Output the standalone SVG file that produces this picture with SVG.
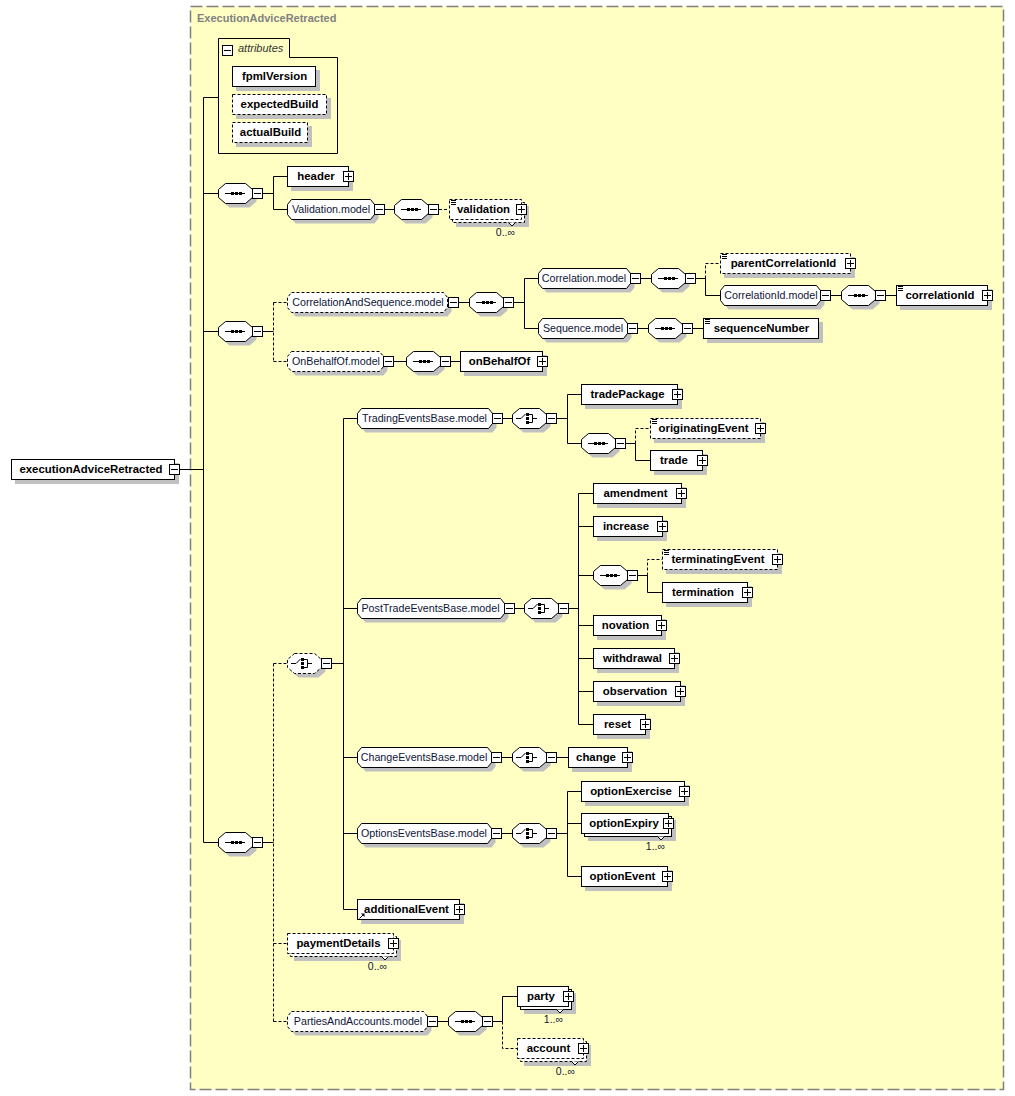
<svg xmlns="http://www.w3.org/2000/svg" xmlns:xlink="http://www.w3.org/1999/xlink" width="1015" height="1096" viewBox="0 0 1015 1096">
<style>
.sh{fill:#c0c0c0;stroke:none}
.b{fill:#fff;stroke:#000;stroke-width:1}
.d{stroke-dasharray:3,2}
.ln{fill:none;stroke:#000;stroke-width:1}
.k{fill:none;stroke:#000;stroke-width:1}
.e{font-family:"Liberation Sans",Arial,sans-serif;font-size:11.4px;font-weight:bold;text-anchor:middle;fill:#000}
.m{font-family:"Liberation Sans",Arial,sans-serif;font-size:10.7px;text-anchor:middle;fill:#0e1638}
.c{font-family:"Liberation Sans",Arial,sans-serif;font-size:10.5px;text-anchor:end;fill:#0e1638}
</style>
<defs>
<g id="plus"><rect x="0.5" y="0.5" width="10" height="10" fill="#fff" stroke="#000"/><path d="M2,5.5H9M5.5,2V9" stroke="#000"/></g>
<g id="minus"><rect x="0.5" y="0.5" width="10" height="10" fill="#fff" stroke="#000"/><path d="M2,5.5H9" stroke="#000"/></g>
<g id="seqC">
<path class="sh" d="M11.5,4.5H31.5L38.5,10.5V18.5L31.5,24.5H11.5L4.5,18.5V10.5Z"/>
<path class="b" d="M7.5,0.5H27.5L34.5,6.5V14.5L27.5,20.5H7.5L0.5,14.5V6.5Z"/>
<path d="M7,10.5H27" stroke="#000"/>
<rect x="13" y="9" width="3" height="3"/><rect x="17" y="9" width="3" height="3"/><rect x="21" y="9" width="3" height="3"/>
</g>
<g id="choIcon">
<path d="M4,10.5H9L13.5,6" stroke="#000" fill="none"/>
<rect x="14" y="5" width="3" height="3"/><rect x="14" y="9" width="3" height="3"/><rect x="14" y="13" width="3" height="3"/>
<path d="M17,6.5H20.5V14.5H17M20.5,10.5H25" stroke="#000" fill="none"/>
</g>
<g id="choC">
<path class="sh" d="M11.5,4.5H31.5L38.5,10.5V18.5L31.5,24.5H11.5L4.5,18.5V10.5Z"/>
<path class="b" d="M7.5,0.5H27.5L34.5,6.5V14.5L27.5,20.5H7.5L0.5,14.5V6.5Z"/>
<use xlink:href="#choIcon"/>
</g>
<g id="choCd">
<path class="sh" d="M11.5,4.5H31.5L38.5,10.5V18.5L31.5,24.5H11.5L4.5,18.5V10.5Z"/>
<path class="b d" d="M7.5,0.5H27.5L34.5,6.5V14.5L27.5,20.5H7.5L0.5,14.5V6.5Z"/>
<use xlink:href="#choIcon"/>
</g>
<path id="smp" d="M0,0.5h5M0,2.5h5M0,4.5h5" stroke="#000"/>
</defs>

<rect x="190.5" y="6.5" width="813" height="1083" fill="#FFFFC4" stroke="#808080" stroke-width="1.5" stroke-dasharray="12,4"/>
<text x="197" y="22" font-family="Liberation Sans, Arial, sans-serif" font-size="11px" font-weight="bold" fill="#808080">ExecutionAdviceRetracted</text>

<g id="connectors">
<path class="ln" d="M180,469.5H203.5M203.5,97.5V842.5M203.5,97.5H218M203.5,193.5H218M203.5,331.5H218M203.5,842.5H218"/>
<path class="ln" d="M263,193.5H273.5M273.5,176.5V209.5M273.5,176.5H287M273.5,209.5H287M385,209.5H394"/>
<path class="ln d" d="M439,209.5H449"/>
<path class="ln" d="M263,331.5H273.5"/>
<path class="ln d" d="M273.5,302.5V361.5M273.5,302.5H287M273.5,361.5H287"/>
<path class="ln" d="M459,302.5H469M514,302.5H524.5M524.5,278.5V328.5M524.5,278.5H538M524.5,328.5H538M641,278.5H651M696,278.5H705.5M705.5,278.5V295.5H720M831,295.5H841M886,295.5H896M638,328.5H648M693,328.5H703M394,361.5H406M451,361.5H460"/>
<path class="ln d" d="M705.5,278.5V263.5H720"/>
<path class="ln" d="M263,842.5H273.5"/>
<path class="ln d" d="M273.5,663.5V1021.5M273.5,663.5H287M273.5,943.5H287M273.5,1021.5H287"/>
<path class="ln" d="M332,663.5H343.5M343.5,418.5V909.5M343.5,418.5H357M343.5,608.5H357M343.5,757.5H357M343.5,833.5H357M343.5,909.5H357"/>
<path class="ln" d="M503,418.5H512M557,418.5H567.5M567.5,394.5V443.5M567.5,394.5H581M567.5,443.5H581M626,443.5H635.5M635.5,443.5V460.5H650"/>
<path class="ln d" d="M635.5,443.5V428.5H650"/>
<path class="ln" d="M515,608.5H524M569,608.5H578.5M578.5,493.5V724.5M578.5,493.5H593M578.5,526.5H593M578.5,575.5H593M578.5,625.5H593M578.5,658.5H593M578.5,691.5H593M578.5,724.5H593M638,575.5H647.5M647.5,575.5V592.5H662"/>
<path class="ln d" d="M647.5,575.5V559.5H662"/>
<path class="ln" d="M502,757.5H512M557,757.5H568M502,833.5H512M557,833.5H567.5M567.5,791.5V876.5M567.5,791.5H581M567.5,823.5H581M567.5,876.5H581"/>
<path class="ln" d="M438,1021.5H448M493,1021.5H502.5M502.5,1021.5V996.5H517"/>
<path class="ln d" d="M502.5,1021.5V1048.5H517"/>
</g>

<g id="n-executionAdviceRetracted">
<rect class="sh" x="15" y="463" width="164" height="21"/>
<rect class="b" x="11.5" y="459.5" width="163" height="20"/>
<text class="e" x="91" y="473">executionAdviceRetracted</text>
<use xlink:href="#minus" x="169" y="464"/>
</g>

<g id="n-attributes">
<path class="k" d="M218.5,38.5H289.5V57.5H337.5V153.5H218.5Z"/>
<use xlink:href="#minus" x="222" y="45"/>
<text x="238" y="52" font-family="Liberation Sans, Arial, sans-serif" font-size="11px" font-style="italic" fill="#333">attributes</text>
</g>
<g id="n-fpmlVersion">
<rect class="sh" x="236" y="70" width="84" height="21"/>
<rect class="b" x="232.5" y="66.5" width="83" height="20"/>
<text class="e" x="274.5" y="80">fpmlVersion</text>
</g>
<g id="n-expectedBuild">
<rect class="sh" x="236" y="98" width="95" height="21"/>
<rect class="b d" x="232.5" y="94.5" width="94" height="20"/>
<text class="e" x="279.5" y="108">expectedBuild</text>
</g>
<g id="n-actualBuild">
<rect class="sh" x="236" y="126" width="76" height="21"/>
<rect class="b d" x="232.5" y="122.5" width="75" height="20"/>
<text class="e" x="270.5" y="136">actualBuild</text>
</g>

<g id="n-seq1"><use xlink:href="#seqC" x="218" y="183"/><use xlink:href="#minus" x="252" y="188"/></g>
<g id="n-header">
<rect class="sh" x="291" y="170" width="62" height="21"/>
<rect class="b" x="287.5" y="166.5" width="61" height="20"/>
<text class="e" x="316" y="180">header</text>
<use xlink:href="#plus" x="343" y="171"/>
</g>
<g id="n-Validation.model" transform="translate(287,199)">
<path class="sh" transform="translate(4,4)" d="M4.5,0.5H83.5L87.5,5.5V15.5L83.5,20.5H4.5L0.5,15.5V5.5Z"/>
<path class="b" d="M4.5,0.5H83.5L87.5,5.5V15.5L83.5,20.5H4.5L0.5,15.5V5.5Z"/>
<text class="m" x="44" y="14">Validation.model</text>
<use xlink:href="#minus" x="87" y="5"/>
</g>
<g id="n-seq1b"><use xlink:href="#seqC" x="394" y="199"/><use xlink:href="#minus" x="428" y="204"/></g>
<g id="n-validation">
<rect class="sh" x="456" y="206" width="73" height="21"/>
<rect class="b d" x="452.5" y="202.5" width="72" height="20"/>
<rect class="b d" x="449.5" y="199.5" width="72" height="20"/>
<path d="M508.5,222.5l3.5,3.5l3.5,-3.5" fill="#fff" stroke="#000"/>
<use xlink:href="#smp" x="451" y="200"/>
<text class="e" x="483.5" y="213">validation</text>
<use xlink:href="#plus" x="516" y="204"/>
<text class="c" x="515" y="236">0..∞</text>
</g>

<g id="n-seq2"><use xlink:href="#seqC" x="218" y="321"/><use xlink:href="#minus" x="252" y="326"/></g>
<g id="n-CorrelationAndSequence.model" transform="translate(287,292)">
<path class="sh" transform="translate(4,4)" d="M4.5,0.5H156.5L160.5,5.5V15.5L156.5,20.5H4.5L0.5,15.5V5.5Z"/>
<path class="b d" d="M4.5,0.5H156.5L160.5,5.5V15.5L156.5,20.5H4.5L0.5,15.5V5.5Z"/>
<text class="m" x="81" y="14">CorrelationAndSequence.model</text>
<use xlink:href="#minus" x="161" y="5"/>
</g>
<g id="n-seq2b"><use xlink:href="#seqC" x="469" y="292"/><use xlink:href="#minus" x="503" y="297"/></g>
<g id="n-Correlation.model" transform="translate(538,268)">
<path class="sh" transform="translate(4,4)" d="M4.5,0.5H88.5L92.5,5.5V15.5L88.5,20.5H4.5L0.5,15.5V5.5Z"/>
<path class="b" d="M4.5,0.5H88.5L92.5,5.5V15.5L88.5,20.5H4.5L0.5,15.5V5.5Z"/>
<text class="m" x="46" y="14">Correlation.model</text>
<use xlink:href="#minus" x="92" y="5"/>
</g>
<g id="n-seq2c"><use xlink:href="#seqC" x="651" y="268"/><use xlink:href="#minus" x="685" y="273"/></g>
<g id="n-parentCorrelationId">
<rect class="sh" x="724" y="257" width="131" height="21"/>
<rect class="b d" x="720.5" y="253.5" width="130" height="20"/>
<use xlink:href="#smp" x="722" y="254"/>
<text class="e" x="783.5" y="267">parentCorrelationId</text>
<use xlink:href="#plus" x="845" y="258"/>
</g>
<g id="n-CorrelationId.model" transform="translate(720,285)">
<path class="sh" transform="translate(4,4)" d="M4.5,0.5H96.5L100.5,5.5V15.5L96.5,20.5H4.5L0.5,15.5V5.5Z"/>
<path class="b" d="M4.5,0.5H96.5L100.5,5.5V15.5L96.5,20.5H4.5L0.5,15.5V5.5Z"/>
<text class="m" x="51" y="14">CorrelationId.model</text>
<use xlink:href="#minus" x="100" y="5"/>
</g>
<g id="n-seq2d"><use xlink:href="#seqC" x="841" y="285"/><use xlink:href="#minus" x="875" y="290"/></g>
<g id="n-correlationId">
<rect class="sh" x="900" y="289" width="92" height="21"/>
<rect class="b" x="896.5" y="285.5" width="91" height="20"/>
<use xlink:href="#smp" x="898" y="286"/>
<text class="e" x="940" y="299">correlationId</text>
<use xlink:href="#plus" x="982" y="290"/>
</g>
<g id="n-Sequence.model" transform="translate(538,318)">
<path class="sh" transform="translate(4,4)" d="M4.5,0.5H85.5L89.5,5.5V15.5L85.5,20.5H4.5L0.5,15.5V5.5Z"/>
<path class="b" d="M4.5,0.5H85.5L89.5,5.5V15.5L85.5,20.5H4.5L0.5,15.5V5.5Z"/>
<text class="m" x="45" y="14">Sequence.model</text>
<use xlink:href="#minus" x="89" y="5"/>
</g>
<g id="n-seq2e"><use xlink:href="#seqC" x="648" y="318"/><use xlink:href="#minus" x="682" y="323"/></g>
<g id="n-sequenceNumber">
<rect class="sh" x="707" y="322" width="116" height="21"/>
<rect class="b" x="703.5" y="318.5" width="115" height="20"/>
<use xlink:href="#smp" x="705" y="319"/>
<text class="e" x="761.5" y="332">sequenceNumber</text>
</g>
<g id="n-OnBehalfOf.model" transform="translate(287,351)">
<path class="sh" transform="translate(4,4)" d="M4.5,0.5H92.5L96.5,5.5V15.5L92.5,20.5H4.5L0.5,15.5V5.5Z"/>
<path class="b d" d="M4.5,0.5H92.5L96.5,5.5V15.5L92.5,20.5H4.5L0.5,15.5V5.5Z"/>
<text class="m" x="49" y="14">OnBehalfOf.model</text>
<use xlink:href="#minus" x="96" y="5"/>
</g>
<g id="n-seq2f"><use xlink:href="#seqC" x="406" y="351"/><use xlink:href="#minus" x="440" y="356"/></g>
<g id="n-onBehalfOf">
<rect class="sh" x="464" y="355" width="83" height="21"/>
<rect class="b" x="460.5" y="351.5" width="82" height="20"/>
<text class="e" x="499.5" y="365">onBehalfOf</text>
<use xlink:href="#plus" x="537" y="356"/>
</g>

<g id="n-seq3"><use xlink:href="#seqC" x="218" y="832"/><use xlink:href="#minus" x="252" y="837"/></g>
<g id="n-choice3"><use xlink:href="#choCd" x="287" y="653"/><use xlink:href="#minus" x="321" y="658"/></g>

<g id="n-TradingEventsBase.model" transform="translate(357,408)">
<path class="sh" transform="translate(4,4)" d="M4.5,0.5H131.5L135.5,5.5V15.5L131.5,20.5H4.5L0.5,15.5V5.5Z"/>
<path class="b" d="M4.5,0.5H131.5L135.5,5.5V15.5L131.5,20.5H4.5L0.5,15.5V5.5Z"/>
<text class="m" x="67.5" y="14">TradingEventsBase.model</text>
<use xlink:href="#minus" x="135" y="5"/>
</g>
<g id="n-choice-trading"><use xlink:href="#choC" x="512" y="408"/><use xlink:href="#minus" x="546" y="413"/></g>
<g id="n-tradePackage">
<rect class="sh" x="585" y="388" width="97" height="21"/>
<rect class="b" x="581.5" y="384.5" width="96" height="20"/>
<text class="e" x="627.5" y="398">tradePackage</text>
<use xlink:href="#plus" x="672" y="389"/>
</g>
<g id="n-seq-trading"><use xlink:href="#seqC" x="581" y="433"/><use xlink:href="#minus" x="615" y="438"/></g>
<g id="n-originatingEvent">
<rect class="sh" x="654" y="422" width="111" height="21"/>
<rect class="b d" x="650.5" y="418.5" width="110" height="20"/>
<use xlink:href="#smp" x="652" y="419"/>
<text class="e" x="703.5" y="432">originatingEvent</text>
<use xlink:href="#plus" x="755" y="423"/>
</g>
<g id="n-trade">
<rect class="sh" x="654" y="454" width="53" height="21"/>
<rect class="b" x="650.5" y="450.5" width="52" height="20"/>
<text class="e" x="674" y="464">trade</text>
<use xlink:href="#plus" x="697" y="455"/>
</g>

<g id="n-PostTradeEventsBase.model" transform="translate(357,598)">
<path class="sh" transform="translate(4,4)" d="M4.5,0.5H143.5L147.5,5.5V15.5L143.5,20.5H4.5L0.5,15.5V5.5Z"/>
<path class="b" d="M4.5,0.5H143.5L147.5,5.5V15.5L143.5,20.5H4.5L0.5,15.5V5.5Z"/>
<text class="m" x="73.5" y="14">PostTradeEventsBase.model</text>
<use xlink:href="#minus" x="147" y="5"/>
</g>
<g id="n-choice-posttrade"><use xlink:href="#choC" x="524" y="598"/><use xlink:href="#minus" x="558" y="603"/></g>
<g id="n-amendment">
<rect class="sh" x="597" y="487" width="89" height="21"/>
<rect class="b" x="593.5" y="483.5" width="88" height="20"/>
<text class="e" x="635.5" y="497">amendment</text>
<use xlink:href="#plus" x="676" y="488"/>
</g>
<g id="n-increase">
<rect class="sh" x="597" y="520" width="70" height="21"/>
<rect class="b" x="593.5" y="516.5" width="69" height="20"/>
<text class="e" x="626" y="530">increase</text>
<use xlink:href="#plus" x="657" y="521"/>
</g>
<g id="n-seq-termination"><use xlink:href="#seqC" x="593" y="565"/><use xlink:href="#minus" x="627" y="570"/></g>
<g id="n-terminatingEvent">
<rect class="sh" x="666" y="553" width="116" height="21"/>
<rect class="b d" x="662.5" y="549.5" width="115" height="20"/>
<use xlink:href="#smp" x="664" y="550"/>
<text class="e" x="718" y="563">terminatingEvent</text>
<use xlink:href="#plus" x="772" y="554"/>
</g>
<g id="n-termination">
<rect class="sh" x="666" y="586" width="86" height="21"/>
<rect class="b" x="662.5" y="582.5" width="85" height="20"/>
<text class="e" x="703" y="596">termination</text>
<use xlink:href="#plus" x="742" y="587"/>
</g>
<g id="n-novation">
<rect class="sh" x="597" y="619" width="69" height="21"/>
<rect class="b" x="593.5" y="615.5" width="68" height="20"/>
<text class="e" x="625.5" y="629">novation</text>
<use xlink:href="#plus" x="656" y="620"/>
</g>
<g id="n-withdrawal">
<rect class="sh" x="597" y="652" width="82" height="21"/>
<rect class="b" x="593.5" y="648.5" width="81" height="20"/>
<text class="e" x="632.5" y="662">withdrawal</text>
<use xlink:href="#plus" x="669" y="653"/>
</g>
<g id="n-observation">
<rect class="sh" x="597" y="685" width="88" height="21"/>
<rect class="b" x="593.5" y="681.5" width="87" height="20"/>
<text class="e" x="635" y="695">observation</text>
<use xlink:href="#plus" x="675" y="686"/>
</g>
<g id="n-reset">
<rect class="sh" x="597" y="718" width="53" height="21"/>
<rect class="b" x="593.5" y="714.5" width="52" height="20"/>
<text class="e" x="617.5" y="728">reset</text>
<use xlink:href="#plus" x="640" y="719"/>
</g>

<g id="n-ChangeEventsBase.model" transform="translate(357,747)">
<path class="sh" transform="translate(4,4)" d="M4.5,0.5H130.5L134.5,5.5V15.5L130.5,20.5H4.5L0.5,15.5V5.5Z"/>
<path class="b" d="M4.5,0.5H130.5L134.5,5.5V15.5L130.5,20.5H4.5L0.5,15.5V5.5Z"/>
<text class="m" x="67" y="14">ChangeEventsBase.model</text>
<use xlink:href="#minus" x="134" y="5"/>
</g>
<g id="n-choice-change"><use xlink:href="#choC" x="512" y="747"/><use xlink:href="#minus" x="546" y="752"/></g>
<g id="n-change">
<rect class="sh" x="572" y="751" width="60" height="21"/>
<rect class="b" x="568.5" y="747.5" width="59" height="20"/>
<text class="e" x="596" y="761">change</text>
<use xlink:href="#plus" x="622" y="752"/>
</g>

<g id="n-OptionsEventsBase.model" transform="translate(357,823)">
<path class="sh" transform="translate(4,4)" d="M4.5,0.5H130.5L134.5,5.5V15.5L130.5,20.5H4.5L0.5,15.5V5.5Z"/>
<path class="b" d="M4.5,0.5H130.5L134.5,5.5V15.5L130.5,20.5H4.5L0.5,15.5V5.5Z"/>
<text class="m" x="67" y="14">OptionsEventsBase.model</text>
<use xlink:href="#minus" x="134" y="5"/>
</g>
<g id="n-choice-options"><use xlink:href="#choC" x="512" y="823"/><use xlink:href="#minus" x="546" y="828"/></g>
<g id="n-optionExercise">
<rect class="sh" x="585" y="785" width="104" height="21"/>
<rect class="b" x="581.5" y="781.5" width="103" height="20"/>
<text class="e" x="631" y="795">optionExercise</text>
<use xlink:href="#plus" x="679" y="786"/>
</g>
<g id="n-optionExpiry">
<rect class="sh" x="588" y="820" width="88" height="21"/>
<rect class="b" x="584.5" y="816.5" width="87" height="20"/>
<rect class="b" x="581.5" y="813.5" width="87" height="20"/>
<path d="M657.5,836.5l3.5,3.5l3.5,-3.5" fill="#fff" stroke="#000"/>
<text class="e" x="624" y="827">optionExpiry</text>
<use xlink:href="#plus" x="663" y="818"/>
<text class="c" x="665" y="850">1..∞</text>
</g>
<g id="n-optionEvent">
<rect class="sh" x="585" y="870" width="87" height="21"/>
<rect class="b" x="581.5" y="866.5" width="86" height="20"/>
<text class="e" x="622.5" y="880">optionEvent</text>
<use xlink:href="#plus" x="662" y="871"/>
</g>
<g id="n-additionalEvent">
<rect class="sh" x="361" y="903" width="103" height="21"/>
<rect class="b" x="357.5" y="899.5" width="102" height="20"/>
<path d="M359.5,918.5L363,915" stroke="#000"/>
<path d="M361,913.5H364.5V917Z" fill="#000"/>
<text class="e" x="406.5" y="913">additionalEvent</text>
<use xlink:href="#plus" x="454" y="904"/>
</g>

<g id="n-paymentDetails">
<rect class="sh" x="294" y="940" width="107" height="21"/>
<rect class="b d" x="290.5" y="936.5" width="106" height="20"/>
<rect class="b d" x="287.5" y="933.5" width="106" height="20"/>
<path d="M381.5,956.5l3.5,3.5l3.5,-3.5" fill="#fff" stroke="#000"/>
<text class="e" x="338.5" y="947">paymentDetails</text>
<use xlink:href="#plus" x="388" y="938"/>
<text class="c" x="387" y="970">0..∞</text>
</g>

<g id="n-PartiesAndAccounts.model" transform="translate(287,1011)">
<path class="sh" transform="translate(4,4)" d="M4.5,0.5H136.5L140.5,5.5V15.5L136.5,20.5H4.5L0.5,15.5V5.5Z"/>
<path class="b d" d="M4.5,0.5H136.5L140.5,5.5V15.5L136.5,20.5H4.5L0.5,15.5V5.5Z"/>
<text class="m" x="71" y="14">PartiesAndAccounts.model</text>
<use xlink:href="#minus" x="140" y="5"/>
</g>
<g id="n-seq-parties"><use xlink:href="#seqC" x="448" y="1011"/><use xlink:href="#minus" x="482" y="1016"/></g>
<g id="n-party">
<rect class="sh" x="524" y="993" width="52" height="21"/>
<rect class="b" x="520.5" y="989.5" width="51" height="20"/>
<rect class="b" x="517.5" y="986.5" width="51" height="20"/>
<path d="M556.5,1009.5l3.5,3.5l3.5,-3.5" fill="#fff" stroke="#000"/>
<text class="e" x="541" y="1000">party</text>
<use xlink:href="#plus" x="563" y="991"/>
<text class="c" x="563" y="1023">1..∞</text>
</g>
<g id="n-account">
<rect class="sh" x="524" y="1045" width="67" height="21"/>
<rect class="b d" x="520.5" y="1041.5" width="66" height="20"/>
<rect class="b d" x="517.5" y="1038.5" width="66" height="20"/>
<path d="M571.5,1061.5l3.5,3.5l3.5,-3.5" fill="#fff" stroke="#000"/>
<text class="e" x="548.5" y="1052">account</text>
<use xlink:href="#plus" x="578" y="1043"/>
<text class="c" x="575" y="1075">0..∞</text>
</g>
</svg>
